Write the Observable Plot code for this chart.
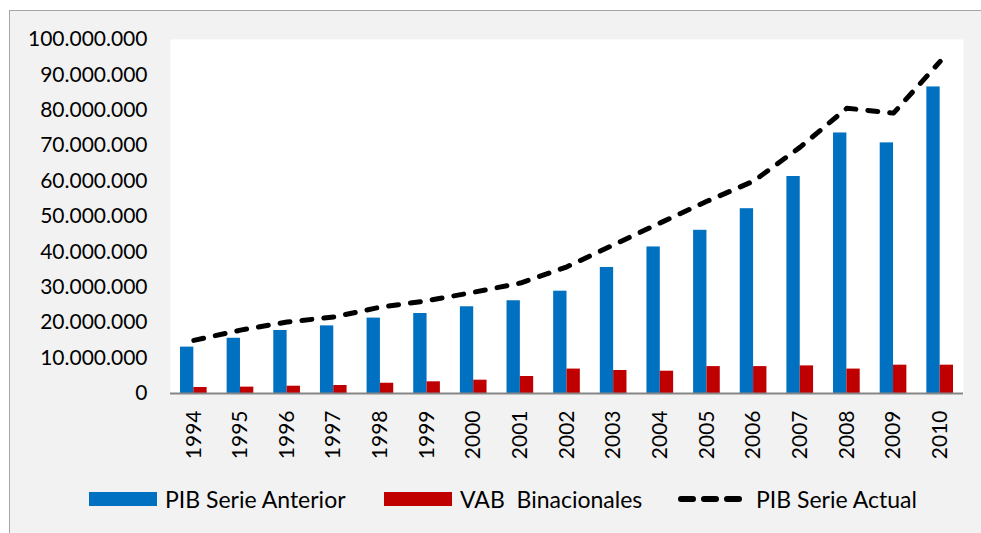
<!DOCTYPE html>
<html>
<head>
<meta charset="utf-8">
<script src="https://cdn.jsdelivr.net/npm/d3@7"></script>
<script src="https://cdn.jsdelivr.net/npm/@observablehq/plot@0.6"></script>
<style>
  html, body { margin: 0; padding: 0; background: #ffffff; }
  #frame {
    position: absolute; left: 9px; top: 10px;
    width: 971px; height: 522px;
    background: #f2f2f2;
    border-left: 1px solid #a6a6a6; border-top: 1px solid #a6a6a6;
    font-family: Lato, "Open Sans", sans-serif;
    overflow: hidden;
  }
  #chart svg { display: block; }
  #legend { position: relative; height: 52px; font-size: 23px; color: #000; }
  .item { position: absolute; top: 0; height: 52px; display: flex; align-items: center; }
  .sw { width: 68px; height: 14px; margin-right: 8px; }
</style>
</head>
<body>
<div id="frame">
  <div id="chart"></div>
  <div id="legend"></div>
</div>
<script>
const years = ["1994","1995","1996","1997","1998","1999","2000","2001","2002","2003","2004","2005","2006","2007","2008","2009","2010"];
const pibAnterior = [13100000, 15600000, 17800000, 19100000, 21300000, 22600000, 24500000, 26200000, 28900000, 35600000, 41400000, 46100000, 52200000, 61300000, 73600000, 70800000, 86600000];
const vabBinacionales = [1700000, 1800000, 2060000, 2260000, 2900000, 3300000, 3760000, 4800000, 6900000, 6500000, 6300000, 7600000, 7600000, 7800000, 6900000, 8000000, 8000000];
const pibActual = [15000000, 17900000, 20200000, 21600000, 24400000, 26200000, 28600000, 31200000, 35800000, 42000000, 48200000, 54300000, 60000000, 69600000, 80600000, 79200000, 93800000];
const yTicks = [0, 10000000, 20000000, 30000000, 40000000, 50000000, 60000000, 70000000, 80000000, 90000000, 100000000];
const seriesNames = ["PIB Serie Anterior", "VAB  Binacionales", "PIB Serie Actual"];
const seriesColors = ["#0070c0", "#c00000", "#000000"];

const table = years.map((y, i) => ({year: y, anterior: pibAnterior[i], vab: vabBinacionales[i], actual: pibActual[i]}));
const fmt = d3.formatLocale({decimal: ",", thousands: ".", grouping: [3], currency: ["", ""]}).format(",.0f");

const W = 971, H = 462, ML = 160, MR = 18;
const bw = (W - ML - MR) / years.length;
const barW = 13.33;

const chart = Plot.plot({
  width: W, height: H,
  marginLeft: ML, marginRight: MR, marginTop: 28, marginBottom: 80,
  style: {background: "transparent", fontFamily: "Lato, 'Open Sans', sans-serif", fontSize: "21px", color: "#000", overflow: "visible"},
  x: {type: "band", domain: years, padding: 0, round: false, tickRotate: -90, tickSize: 0, tickPadding: 17, label: null},
  y: {domain: [0, 100000000], ticks: yTicks, tickFormat: fmt, tickSize: 0, tickPadding: 23, label: null},
  marks: [
    Plot.frame({fill: "white", stroke: null}),
    Plot.barY(table, {x: "year", y: "anterior", fill: seriesColors[0], insetLeft: bw / 2 - barW, insetRight: bw / 2}),
    Plot.barY(table, {x: "year", y: "vab", fill: seriesColors[1], insetLeft: bw / 2, insetRight: bw / 2 - barW}),
    Plot.ruleY([0], {stroke: "#868686", strokeWidth: 2}),
    Plot.line(table, {x: "year", y: "actual", stroke: seriesColors[2], strokeWidth: 5, strokeDasharray: "10,12", strokeLinecap: "round", strokeLinejoin: "round"})
  ]
});
document.getElementById("chart").appendChild(chart);

const legend = document.getElementById("legend");
const lefts = [79, 374, 668];
seriesNames.forEach((name, i) => {
  const it = document.createElement("div");
  it.className = "item";
  it.style.left = lefts[i] + "px";
  if (i < 2) {
    const sw = document.createElement("div");
    sw.className = "sw";
    sw.style.background = seriesColors[i];
    it.appendChild(sw);
  } else {
    const ns = "http://www.w3.org/2000/svg";
    const s = document.createElementNS(ns, "svg");
    s.setAttribute("width", 70); s.setAttribute("height", 14);
    s.style.marginRight = "8px";
    const l = document.createElementNS(ns, "line");
    l.setAttribute("x1", 3); l.setAttribute("x2", 63); l.setAttribute("y1", 7); l.setAttribute("y2", 7);
    l.setAttribute("stroke", seriesColors[i]); l.setAttribute("stroke-width", 6);
    l.setAttribute("stroke-linecap", "round"); l.setAttribute("stroke-dasharray", "12,11");
    s.appendChild(l);
    it.appendChild(s);
  }
  const t = document.createElement("span");
  t.textContent = name;
  t.style.whiteSpace = "pre";
  it.appendChild(t);
  legend.appendChild(it);
});
</script>
</body>
</html>
